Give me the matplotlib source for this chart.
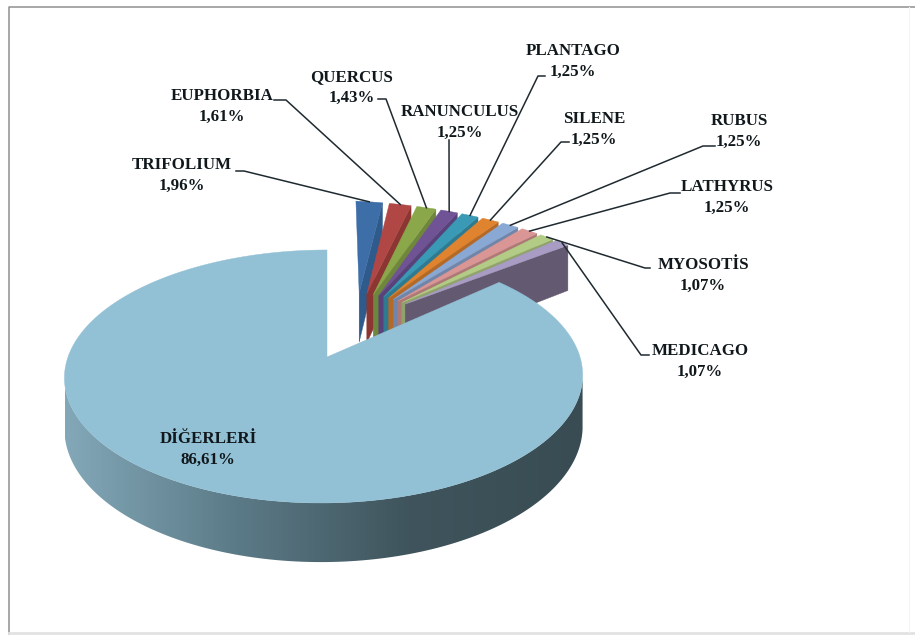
import numpy as np
import matplotlib
matplotlib.use('Agg')
import matplotlib.pyplot as plt
from matplotlib.colors import LinearSegmentedColormap
from matplotlib.patches import Polygon

names = ['TRIFOLIUM', 'EUPHORBIA', 'QUERCUS', 'RANUNCULUS', 'PLANTAGO', 'SILENE',
         'RUBUS', 'LATHYRUS', 'MYOSOTİS', 'MEDICAGO', 'DİĞERLERİ']
values = [1.96, 1.61, 1.43, 1.25, 1.25, 1.25, 1.25, 1.25, 1.07, 1.07, 86.61]
value_labels = ['1,96%', '1,61%', '1,43%', '1,25%', '1,25%', '1,25%', '1,25%', '1,25%',
                '1,07%', '1,07%', '86,61%']

top_colors = ['#3d6ea8', '#b04744', '#8aa84a', '#6f5395', '#3a9ab5', '#e0832f',
              '#8aa8d4', '#d99694', '#b3cc85', '#a89bc4', '#92c0d4']
wall_colors = ['#2f5a8c', '#8c3633', '#6f873c', '#59427a', '#2e7a90', '#b46a26',
               '#6f86aa', '#ae7876', '#8fa36a', '#635a72', '#5b7a87']

# label centres and the elbow where each leader line leaves its label
label_xy = [(182, 165), (222, 96), (352, 77), (460, 112), (573, 51), (594, 119),
            (739, 121), (727, 187), (703, 265), (700, 351), (208, 439)]
elbows = [[(236, 171), (244, 171)], [(274, 100), (286, 100)], [(378, 99), (386, 99)],
          [(449, 140), (449, 140)], [(545, 76), (538, 76)], [(569, 142), (561, 142)],
          [(715, 146), (703, 146)], [(680, 193), (670, 193)], [(650, 268), (645, 268)],
          [(649, 355), (641, 355)], None]

# perspective of the pie plane, in pixels
CX, CY = 324, 357
RX, RY = 256, 123.5
K = 0.154
SHEAR = 3
APEX_DX = 3
DEPTH = 50
# the pulled out slices narrow a little less towards the back and sit on their own tilt
K_SMALL = 0.12
SMALL_SHIFT = (3, -3)
SMALL_TILT = 9
SMALL_DEPTH = 53
# how far the slices are pulled out, in pie radii
EXPLODE = 0.285


def project(u, v, small=False):
    s = 1 / (1 + K * v)
    if small:
        return (CX + SMALL_SHIFT[0] + RX * u / (1 + K_SMALL * v),
                CY + SMALL_SHIFT[1] + SMALL_TILT * u - RY * v * s)
    return CX + RX * u * s + SHEAR * v, CY - RY * v * s


def drop(u, v, small=False):
    # same point on the underside of the pie
    x, y = project(u, v, small)
    return x, y + (SMALL_DEPTH if small else DEPTH) / (1 + K * v)


fig = plt.figure(figsize=(9.15, 6.35), dpi=100)
ax = fig.add_axes([0, 0, 1, 1])

# chart frame
ax.plot([8.5, 8.5, 915], [635, 6.5, 6.5], color='#8f8f8f', lw=1.1)
ax.plot([9, 915], [632.5, 632.5], color='#e2e2e2', lw=2.0)
ax.plot([909, 909], [7, 632], color='#f4f4f4', lw=0.8)

angles = np.radians(np.cumsum([0] + values) / sum(values) * 360)
big = len(values) - 1
big_mid = (angles[big] + angles[big + 1]) / 2
big_dir = np.array([np.sin(big_mid), np.cos(big_mid)])

rim = LinearSegmentedColormap.from_list('rim', ['#83a8b8', '#5b7a87', '#3f545c', '#394c54'])

anchors = []
for i in range(len(values)):
    a0, a1 = angles[i], angles[i + 1]
    mid = (a0 + a1) / 2
    off = EXPLODE * (np.array([np.sin(mid), np.cos(mid)]) - big_dir)
    t = np.linspace(a0, a1, max(8, int(np.degrees(a1 - a0))))
    us = off[0] + np.sin(t)
    vs = off[1] + np.cos(t)
    small = i < big

    if small:
        # cut face on the clockwise side, then the top of the slice
        wall = [project(off[0], off[1], True), project(us[-1], vs[-1], True),
                drop(us[-1], vs[-1], True), drop(off[0], off[1], True)]
        ax.add_patch(Polygon(wall, closed=True, fc=wall_colors[i], ec=wall_colors[i], lw=0.3))
    else:
        # front rim of the large slice, between its widest points, shaded left to right
        front = vs < -K
        upper = [project(a, b) for a, b in zip(us[front], vs[front])]
        lower = [drop(a, b) for a, b in zip(us[front], vs[front])]
        outline = Polygon(upper + lower[::-1], closed=True, fc='none', ec='none')
        ax.add_patch(outline)
        shade = ax.imshow(np.linspace(0, 1, 256).reshape(1, -1), cmap=rim, aspect='auto',
                          extent=(65, 583, 570, 370), zorder=1)
        shade.set_clip_path(outline)

    top = [project(a, b, small) for a, b in zip(us, vs)]
    apex = project(off[0], off[1], small)
    if not small:
        apex = (apex[0] + APEX_DX, apex[1])
    ax.add_patch(Polygon([apex] + top, closed=True, fc=top_colors[i], ec=top_colors[i],
                         lw=0.3, zorder=2))
    anchors.append(project(off[0] + np.sin(mid), off[1] + np.cos(mid), small))

ax.set_xlim(0, 915)
ax.set_ylim(635, 0)
ax.axis('off')

# leader lines and labels
for i in range(len(values)):
    if elbows[i] is not None:
        pts = elbows[i] + [anchors[i]]
        ax.plot([p[0] for p in pts], [p[1] for p in pts], color='#1f2a30', lw=1.1, zorder=5)
    x, y = label_xy[i]
    ax.text(x, y, names[i], ha='center', va='center', family='Liberation Serif',
            weight='bold', fontsize=12.2, color='#10181c', zorder=6)
    ax.text(x, y + 20.5, value_labels[i], ha='center', va='center', family='Liberation Serif',
            weight='bold', fontsize=12.2, color='#10181c', zorder=6)

fig.savefig('out.png', dpi=100)
